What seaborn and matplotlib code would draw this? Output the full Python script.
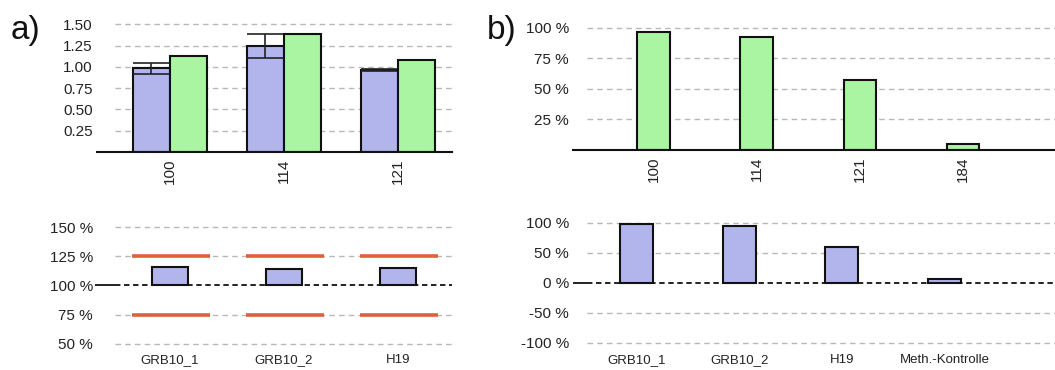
import numpy as np
import pandas as pd
import matplotlib
matplotlib.use("Agg")
import matplotlib.pyplot as plt
import seaborn as sns

sns.set_style("white")
plt.rcParams["font.family"] = ["Liberation Sans", "DejaVu Sans"]

# ---- data -------------------------------------------------------------
# a) top: relative signal per fragment (two series) with spread of series 1
frag_a = ["100", "114", "121"]
sig_a_blue = [0.985, 1.24, 0.96]
err_a_blue = [0.065, 0.14, 0.01]
sig_a_green = [1.13, 1.39, 1.08]
yticks_a_top = [0.25, 0.50, 0.75, 1.00, 1.25, 1.50]

# a) bottom: ratio per gene with tolerance band
genes_a = ["GRB10_1", "GRB10_2", "H19"]
ratio_a = [116, 114, 115]
upper_a = [125, 125, 125]
lower_a = [75, 75, 75]
yticks_a_bot = [50, 75, 100, 125, 150]

# b) top: methylation per fragment
frag_b = ["100", "114", "121", "184"]
meth_b = [96.5, 92.5, 57, 5]
yticks_b_top = [25, 50, 75, 100]

# b) bottom: methylation per gene
genes_b = ["GRB10_1", "GRB10_2", "H19", "Meth.-Kontrolle"]
meth_b_gene = [98, 95, 60, 7]
yticks_b_bot = [-100, -50, 0, 50, 100]

BLUE = "#b2b4ec"
GREEN = "#a9f5a1"
RED = "#e0603c"
GRID = "#b8b8b8"
TXT = "#222222"
TICK_FS = 11
CAT_FS = 9.5

W, H = 1055, 370
fig = plt.figure(figsize=(W / 100, H / 100), dpi=100)


def px_axes(x0, x1, y0, y1):
    """Axes from pixel box (x0..x1 horizontally, y0 top .. y1 bottom)."""
    return fig.add_axes([x0 / W, 1 - y1 / H, (x1 - x0) / W, (y1 - y0) / H])


def style(ax, yticks, fmt, xlim, ylim, bottom_spine=True):
    ax.set_xlim(*xlim)
    ax.set_ylim(*ylim)
    for s in ["top", "right", "left"]:
        ax.spines[s].set_visible(False)
    ax.spines["bottom"].set_visible(bottom_spine)
    ax.spines["bottom"].set_color("#111111")
    ax.spines["bottom"].set_linewidth(1.5)
    ax.set_yticks(yticks)
    ax.set_yticklabels([fmt(v) for v in yticks], fontsize=TICK_FS, color=TXT)
    ax.tick_params(axis="y", length=0, pad=3)
    ax.set_xlabel("")
    ax.set_ylabel("")
    ax.grid(False)


def grid_lines(ax, ys, x0, x1):
    ax.hlines(ys, x0, x1, colors=GRID, linestyles=(0, (4, 3)), lw=1.0, zorder=0)


# ---- a) top --------------------------------------------------------------
ax1 = px_axes(97, 452, 14, 152)
df1 = pd.DataFrame({
    "fragment": frag_a * 2,
    "wert": sig_a_blue + sig_a_green,
    "reihe": ["A"] * 3 + ["B"] * 3,
})
sns.barplot(data=df1, x="fragment", y="wert", hue="reihe", palette=[BLUE, GREEN],
            saturation=1, width=0.65, edgecolor="#111111", linewidth=1.5,
            errorbar=None, legend=False, ax=ax1, zorder=2)
xa = np.arange(len(frag_a)) - 0.1625
ax1.errorbar(xa, sig_a_blue, yerr=err_a_blue, fmt="none", ecolor="#222222",
             elinewidth=1.2, capsize=13, capthick=1.2, zorder=3)
xlim1 = (-0.64, 2.474)
style(ax1, yticks_a_top, lambda v: f"{v:.2f}", xlim1, (0, 1.62))
grid_lines(ax1, yticks_a_top, -0.48, xlim1[1])
ax1.set_xticks(range(len(frag_a)))
ax1.set_xticklabels(frag_a, rotation=90, fontsize=TICK_FS, color=TXT)
ax1.tick_params(axis="x", length=0, pad=5)

# ---- a) bottom -----------------------------------------------------------
ax2 = px_axes(97, 452, 215, 352)
dev_a = [r - 100 for r in ratio_a]
sns.barplot(x=genes_a, y=dev_a, bottom=100, color=BLUE, saturation=1, width=0.32,
            edgecolor="#111111", linewidth=1.5, errorbar=None, ax=ax2, zorder=2)
xlim2 = (-0.64, 2.474)
style(ax2, yticks_a_bot, lambda v: f"{v} %", xlim2, (43, 160.3),
      bottom_spine=False)
grid_lines(ax2, [50, 75, 125, 150], -0.48, xlim2[1])
pos = np.arange(len(genes_a))
ax2.hlines(upper_a, pos - 0.33, pos + 0.35, colors=RED, lw=2.6, zorder=3)
ax2.hlines(lower_a, pos - 0.33, pos + 0.35, colors=RED, lw=2.6, zorder=3)
ax2.hlines(100, xlim2[0] - 0.02, -0.48, colors="#111111", lw=1.3, zorder=4,
           clip_on=False)
ax2.hlines(100, -0.48, xlim2[1], colors="#111111", linestyles=(0, (3, 2)),
           lw=1.3, zorder=4)
ax2.set_xticks(pos)
ax2.set_xticklabels(genes_a, fontsize=CAT_FS, color=TXT)
ax2.tick_params(axis="x", length=0, pad=1.5)

# ---- b) top --------------------------------------------------------------
ax3 = px_axes(573, 1055, 18, 150)
sns.barplot(x=frag_b, y=meth_b, color=GREEN, saturation=1, width=0.32,
            edgecolor="#111111", linewidth=1.5, errorbar=None, ax=ax3, zorder=2)
xlim3 = (-0.786, 3.893)
style(ax3, yticks_b_top, lambda v: f"{v} %", xlim3, (0, 108))
grid_lines(ax3, yticks_b_top, -0.65, xlim3[1])
ax3.set_xticks(range(len(frag_b)))
ax3.set_xticklabels(frag_b, rotation=90, fontsize=TICK_FS, color=TXT)
ax3.tick_params(axis="x", length=0, pad=5)

# ---- b) bottom -----------------------------------------------------------
ax4 = px_axes(573, 1055, 212, 352)
sns.barplot(x=genes_b, y=meth_b_gene, color=BLUE, saturation=1, width=0.32,
            edgecolor="#111111", linewidth=1.5, errorbar=None, ax=ax4, zorder=2)
xlim4 = (-0.618, 4.075)
style(ax4, yticks_b_bot, lambda v: f"{v} %", xlim4, (-115, 118),
      bottom_spine=False)
grid_lines(ax4, [-100, -50, 50, 100], -0.482, xlim4[1])
ax4.hlines(0, xlim4[0], -0.482, colors="#111111", lw=1.3, zorder=4)
ax4.hlines(0, -0.482, xlim4[1], colors="#111111", linestyles=(0, (3, 2)),
           lw=1.3, zorder=4)
ax4.set_xticks(range(len(genes_b)))
ax4.set_xticklabels(genes_b, fontsize=CAT_FS, color=TXT)
ax4.tick_params(axis="x", length=0, pad=1.5)

# ---- panel letters ---------------------------------------------------------
fig.text(11 / W, 1 - 31 / H, "a)", fontsize=24, color="#111111", va="center",
         ha="left")
fig.text(487 / W, 1 - 31 / H, "b)", fontsize=24, color="#111111", va="center",
         ha="left")

fig.savefig("out.png", dpi=100, facecolor="white")
